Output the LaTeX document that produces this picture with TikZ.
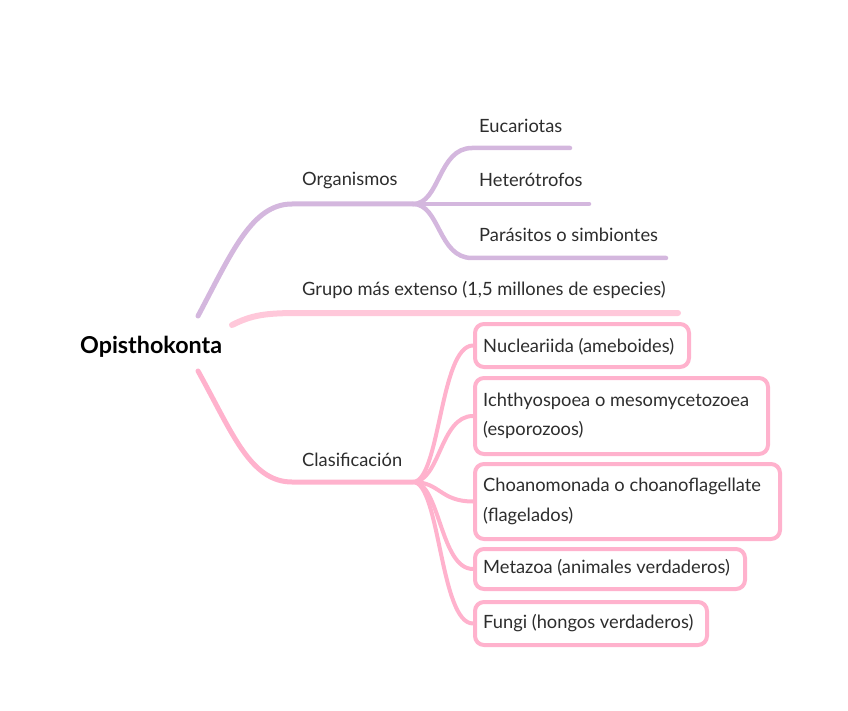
\documentclass[tikz,border=0pt]{standalone}
\usepackage{fontspec}
\setmainfont{Lato}
\definecolor{lav}{RGB}{212,183,222}
\definecolor{pk}{RGB}{255,178,205}
\definecolor{pkl}{RGB}{255,200,218}
\definecolor{txt}{RGB}{45,45,45}
\tikzset{
  lbl/.style={anchor=west,inner sep=0pt,text=txt,font=\fontsize{18.3}{22}\selectfont},
  pbranch/.style={draw=lav,line width=4.5pt,line cap=round},
  kbranch/.style={draw=pk,line width=4.5pt,line cap=round},
  kbox/.style={draw=pk,line width=4pt,rounded corners=9pt,anchor=north west,minimum height=#1,inner sep=0pt},
}
\begin{document}
\begin{tikzpicture}[x=1pt,y=-1pt]
\useasboundingbox (0,0) rectangle (848,711);
% root
\node[anchor=west,inner sep=0pt,font=\fontsize{23.3}{28}\selectfont\bfseries] (root) at (80,347) {Opisthokonta};
% coordinates
\coordinate (r1) at (198,316);
\coordinate (orgB) at (413,204);
\coordinate (e1) at (570,148);
\coordinate (e2) at (589,204);
\coordinate (e3) at (666,258);
\coordinate (g0) at (232,325);
\coordinate (g1) at (678,313);
\coordinate (r3) at (198,371);
\coordinate (clsB) at (413,482);
% purple branch
\draw[pbranch,line width=5pt] (r1) .. controls (232,252) and (252,204) .. (292,204) -- (orgB);
\draw[pbranch] (orgB) .. controls (440,204) and (438,148) .. (472,148) -- (e1);
\draw[pbranch] (orgB) -- (e2);
\draw[pbranch] (orgB) .. controls (440,204) and (438,258) .. (472,258) -- (e3);
\node[lbl] (org) at (302,180) {Organismos};
\node[lbl] (euc) at (479,126) {Eucariotas};
\node[lbl] (het) at (479,180) {Heterótrofos};
\node[lbl] (par) at (479,235) {Parásitos o simbiontes};
% grupo
\draw[draw=pkl,line width=6pt,line cap=round] (g0) .. controls (252,315) and (265,313) .. (300,313) -- (g1);
\node[lbl] (gru) at (302,290) {Grupo más extenso (1,5 millones de especies)};
% clasificacion
\draw[kbranch,line width=5pt] (r3) .. controls (232,432) and (250,482) .. (292,482) -- (clsB);
\node[lbl] (cls) at (302,460) {Clasificación};
% boxes
\node[kbox=43pt,minimum width=214pt] (b1) at (473,322) {};
\node[lbl] at (483,347) {Nucleariida (ameboides)};
\node[kbox=76pt,minimum width=293pt] (b2) at (473,376) {};
\node[lbl] at (483,401) {Ichthyospoea o mesomycetozoea};
\node[lbl] at (483,430) {(esporozoos)};
\node[kbox=75pt,minimum width=305pt] (b3) at (473,462) {};
\node[lbl] at (483,486) {Choanomonada o choanoflagellate};
\node[lbl] at (483,516) {(flagelados)};
\node[kbox=40pt,minimum width=270pt] (b4) at (473,547) {};
\node[lbl] at (483,568) {Metazoa (animales verdaderos)};
\node[kbox=43pt,minimum width=232pt] (b5) at (473,600) {};
\node[lbl] at (483,623) {Fungi (hongos verdaderos)};
% connectors
\foreach \b in {b1,b2,b3,b4,b5}{
  \draw[kbranch,line width=4pt] (clsB) .. controls (440,482) and (440,482 |- \b.west) .. (\b.west);
}
\end{tikzpicture}
\end{document}
